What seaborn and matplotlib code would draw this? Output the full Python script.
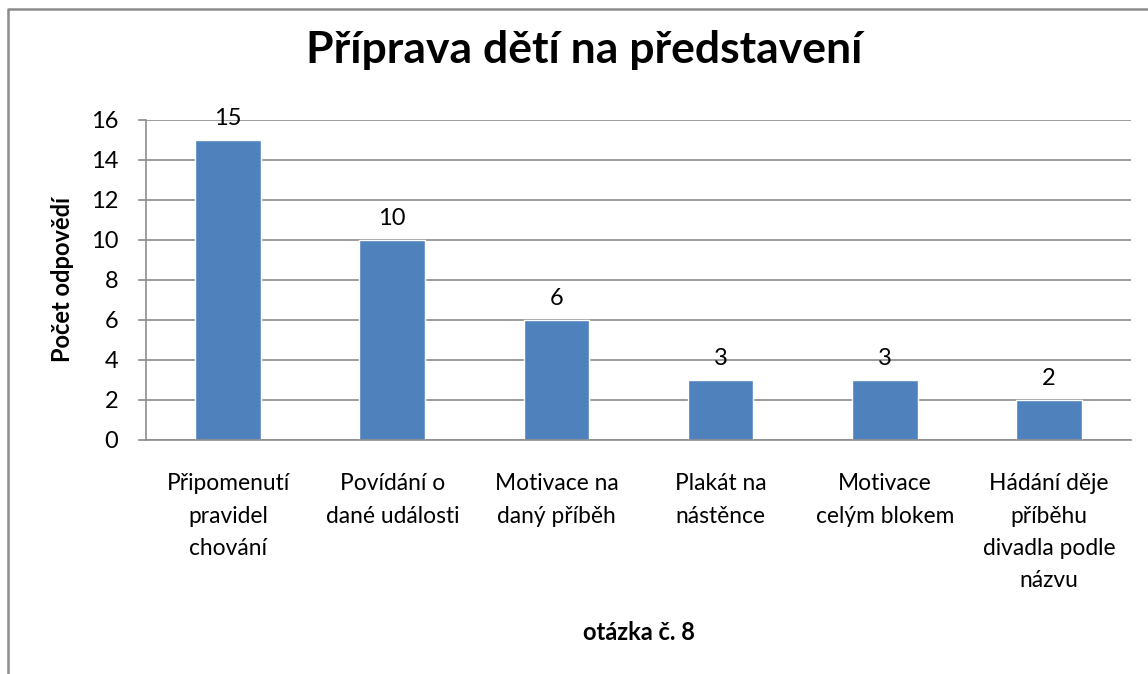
import matplotlib
matplotlib.use('Agg')
import matplotlib.pyplot as plt
from matplotlib.lines import Line2D
import seaborn as sns

# Chart data
categories = [
    'Připomenutí\npravidel\nchování',
    'Povídání o\ndané události',
    'Motivace na\ndaný příběh',
    'Plakát na\nnástěnce',
    'Motivace\ncelým blokem',
    'Hádání děje\npříběhu\ndivadla podle\nnázvu',
]
counts = [15, 10, 6, 3, 3, 2]
y_ticks = [0, 2, 4, 6, 8, 10, 12, 14, 16]

title = 'Příprava dětí na představení'
x_label = 'otázka č. 8'
y_label = 'Počet odpovědí'

sns.set_theme(style='white')
plt.rcParams['font.family'] = ['Lato', 'DejaVu Sans']
plt.rcParams['text.color'] = 'black'
plt.rcParams['xtick.labelcolor'] = 'black'
plt.rcParams['ytick.labelcolor'] = 'black'
plt.rcParams['axes.labelcolor'] = 'black'

fig = plt.figure(figsize=(11.48, 6.74), dpi=100)
ax = fig.add_axes([146 / 1148, 1 - 440 / 674, (1131 - 146) / 1148, 320 / 674])

sns.barplot(x=categories, y=counts, color='#4F81BD', saturation=1, width=0.4, ax=ax)

ax.set_ylim(0, 16)
ax.set_yticks(y_ticks)
ax.grid(axis='y', color='#8C8C8C', linewidth=1.2)
ax.set_axisbelow(True)
for side in ['top', 'right']:
    ax.spines[side].set_visible(False)
for side in ['left', 'bottom']:
    ax.spines[side].set_color('#8C8C8C')
    ax.spines[side].set_linewidth(1.2)

ax.tick_params(axis='y', length=6, color='#8C8C8C', width=1.2, pad=14, labelsize=17, left=True)
ax.tick_params(axis='x', length=0, pad=24, labelsize=16.4)
for lbl in ax.get_xticklabels():
    lbl.set_linespacing(1.66)

ax.bar_label(ax.containers[0], fontsize=17, padding=8)

ax.set_xlabel(x_label, fontsize=17, fontweight='bold')
ax.set_ylabel(y_label, fontsize=17, fontweight='bold')
ax.xaxis.set_label_coords(0.5, -(632 - 440) / 320)
ax.xaxis.label.set_va('center')
ax.yaxis.set_label_coords(-(146 - 62) / 985, 0.5)
ax.yaxis.label.set_va('center')

fig.text(584 / 1148, 1 - 50 / 674, title, fontsize=32, fontweight='bold',
         ha='center', va='center')

# chart frame (left and top edges visible)
fig.add_artist(Line2D([8 / 1148, 8 / 1148, 1.0], [0.0, 1 - 8.5 / 674, 1 - 8.5 / 674],
                      transform=fig.transFigure, color='#8C8C8C', linewidth=1.8))

fig.savefig('out.png', dpi=100)
